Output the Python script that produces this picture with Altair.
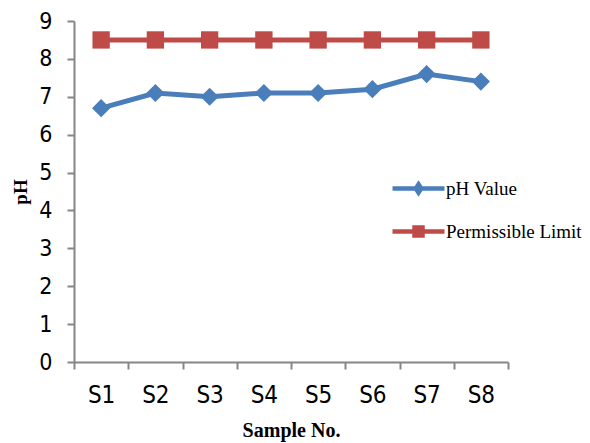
import altair as alt
import pandas as pd

# Sample labels and measured values
samples = ["S1", "S2", "S3", "S4", "S5", "S6", "S7", "S8"]
ph_values = [6.7, 7.1, 7.0, 7.1, 7.1, 7.2, 7.6, 7.4]
limit_values = [8.5, 8.5, 8.5, 8.5, 8.5, 8.5, 8.5, 8.5]
series_names = ["pH Value", "Permissible Limit"]
series_colors = ["#4A7EBB", "#BE4B48"]
series_markers = ["diamond", "square"]
marker_sizes = [330, 300]
y_ticks = [0, 1, 2, 3, 4, 5, 6, 7, 8, 9]

rows = []
for name, vals in zip(series_names, [ph_values, limit_values]):
    for s, v in zip(samples, vals):
        rows.append({"sample": s, "value": v, "series": name})
df = pd.DataFrame(rows)

TICK_FONT = "Liberation Sans Narrow, DejaVu Sans Condensed, sans-serif"
SERIF = "Liberation Serif, Times New Roman, serif"
AXIS_GREY = "#868686"

x_enc = alt.X(
    "sample:N",
    sort=samples,
    scale=alt.Scale(type="band", paddingInner=0, paddingOuter=0),
    axis=alt.Axis(
        title="Sample No.",
        tickBand="extent",
        labelAngle=0,
        labelFont=TICK_FONT,
        labelFontSize=24,
        labelColor="#000000",
        labelPadding=14,
        titleFont=SERIF,
        titleFontSize=20,
        titleFontWeight="bold",
        titleColor="#000000",
        titlePadding=13,
    ),
)
y_enc = alt.Y(
    "value:Q",
    scale=alt.Scale(domain=[0, 9], nice=False, zero=True),
    axis=alt.Axis(
        title="pH",
        values=y_ticks,
        format="d",
        grid=False,
        labelFont=TICK_FONT,
        labelFontSize=23,
        labelColor="#000000",
        labelPadding=15,
        titleFont=SERIF,
        titleFontSize=19,
        titleFontWeight="bold",
        titleColor="#000000",
        titlePadding=8,
    ),
)

base = alt.Chart(df)

# One line plus its markers per series
series_layers = []
for name, col, marker, msize in zip(series_names, series_colors, series_markers, marker_sizes):
    sub = base.transform_filter(alt.datum.series == name)
    series_layers.append(sub.mark_line(strokeWidth=5, color=col).encode(x=x_enc, y=y_enc))
    series_layers.append(
        sub.mark_point(shape=marker, filled=True, size=msize, opacity=1, color=col).encode(
            x=x_enc, y=y_enc
        )
    )

# Legend symbols: a line segment with the series marker on it
diamond_key = "M-2.6,0H2.6M0,-0.42L0.27,0L0,0.42L-0.27,0Z"
square_key = "M-2.6,0H2.6M-0.4,-0.4H0.4V0.4H-0.4Z"

key_legend = alt.Legend(
    title=None,
    orient="none",
    legendX=332,
    legendY=155,
    padding=0,
    symbolSize=400,
    symbolStrokeWidth=4.5,
    symbolOpacity=1,
    labelOffset=15,
    rowPadding=16,
    labelFont=SERIF,
    labelFontSize=19,
    labelColor="#000000",
    labelLimit=300,
)

key_colors = alt.Scale(domain=series_names, range=series_colors)

# This layer only feeds the legend; its own marks are shifted out of the
# clipped plot area.
legend_layer = base.mark_point(
    filled=True, strokeWidth=4.5, opacity=1, clip=True, yOffset=-2000
).encode(
    x=x_enc,
    y=y_enc,
    fill=alt.Fill("series:N", scale=key_colors, legend=key_legend),
    stroke=alt.Stroke("series:N", scale=key_colors, legend=key_legend),
    shape=alt.Shape(
        "series:N",
        scale=alt.Scale(domain=series_names, range=[diamond_key, square_key]),
        legend=key_legend,
    ),
)

chart = (
    alt.layer(*series_layers, legend_layer)
    .properties(
        width=434,
        height=341,
        autosize=alt.AutoSizeParams(type="none"),
        padding={"left": 74, "top": 21, "right": 82, "bottom": 81},
        background="#FFFFFF",
    )
    .configure_view(stroke=None)
    .configure_axis(
        domainColor=AXIS_GREY,
        domainWidth=2,
        tickColor=AXIS_GREY,
        tickWidth=2,
        tickSize=7,
        grid=False,
    )
)

chart.save("out.html", embed_options={"renderer": "svg", "actions": False})
